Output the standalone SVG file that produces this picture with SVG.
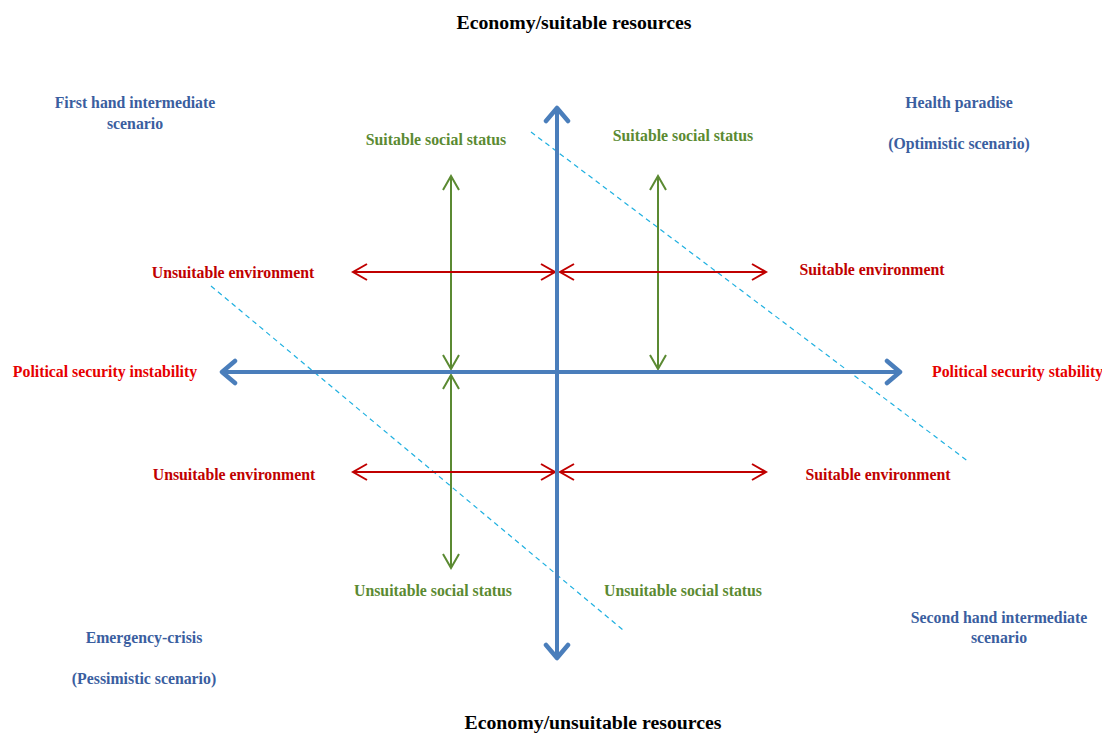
<svg xmlns="http://www.w3.org/2000/svg" width="1102" height="735" viewBox="0 0 1102 735">
<style>
text{font-family:"Liberation Serif","Times New Roman",serif;font-weight:bold;font-size:15.8px;text-anchor:middle}
.blk{fill:#000;font-size:19.8px}
.blu{fill:#3a5ea0}
.grn{fill:#5b8a32}
.red{fill:#e60000}
.dred{fill:#c00000}
.axis{stroke:#4a7ebb;stroke-width:4;fill:none}
.ra{stroke:#c00000;stroke-width:2;fill:none}
.ga{stroke:#5b8a32;stroke-width:2;fill:none}
.dash{stroke:#1fb0e0;stroke-width:1.2;stroke-dasharray:5,4;fill:none}
</style>
<defs>
<marker id="mb" markerUnits="userSpaceOnUse" viewBox="-16 -14 20 28" refX="0" refY="0" markerWidth="20" markerHeight="28" orient="auto-start-reverse">
<path d="M-13,-11 L0,0 L-13,11" stroke="#4a7ebb" stroke-width="4.5" fill="none" stroke-linecap="round" stroke-linejoin="round"/>
</marker>
<marker id="mr" markerUnits="userSpaceOnUse" viewBox="-16 -10 18 20" refX="0" refY="0" markerWidth="18" markerHeight="20" orient="auto-start-reverse">
<path d="M-14,-8 L0,0 L-14,8" stroke="#c00000" stroke-width="2" fill="none"/>
</marker>
<marker id="mg" markerUnits="userSpaceOnUse" viewBox="-16 -10 18 20" refX="0" refY="0" markerWidth="18" markerHeight="20" orient="auto-start-reverse">
<path d="M-14,-8 L0,0 L-14,8" stroke="#5b8a32" stroke-width="2" fill="none"/>
</marker>
</defs>
<g id="connectors">
<line class="dash" x1="531" y1="132" x2="969" y2="462"/>
<line class="dash" x1="211" y1="286" x2="623" y2="630"/>
<line class="ga" x1="451" y1="176" x2="451" y2="369" marker-start="url(#mg)" marker-end="url(#mg)"/>
<line class="ga" x1="451" y1="375" x2="451" y2="568" marker-start="url(#mg)" marker-end="url(#mg)"/>
<line class="ga" x1="658" y1="176" x2="658" y2="369" marker-start="url(#mg)" marker-end="url(#mg)"/>
<line class="ra" x1="353" y1="272" x2="555" y2="272" marker-start="url(#mr)" marker-end="url(#mr)"/>
<line class="ra" x1="560" y1="272" x2="766" y2="272" marker-start="url(#mr)" marker-end="url(#mr)"/>
<line class="ra" x1="353" y1="472" x2="555" y2="472" marker-start="url(#mr)" marker-end="url(#mr)"/>
<line class="ra" x1="560" y1="472" x2="766" y2="472" marker-start="url(#mr)" marker-end="url(#mr)"/>
<line class="axis" x1="557" y1="108" x2="557" y2="658" marker-start="url(#mb)" marker-end="url(#mb)"/>
<line class="axis" x1="222" y1="372" x2="900" y2="372" marker-start="url(#mb)" marker-end="url(#mb)"/>
</g>
<g id="title-top"><text class="blk" x="574" y="29">Economy/suitable resources</text></g>
<g id="title-bottom"><text class="blk" x="593" y="729">Economy/unsuitable resources</text></g>
<g id="q-first"><text class="blu" x="135" y="108">First hand intermediate</text><text class="blu" x="135" y="129">scenario</text></g>
<g id="q-health"><text class="blu" x="959" y="108">Health paradise</text><text class="blu" x="959" y="149">(Optimistic scenario)</text></g>
<g id="q-second"><text class="blu" x="999" y="623">Second hand intermediate</text><text class="blu" x="999" y="643">scenario</text></g>
<g id="q-emergency"><text class="blu" x="144" y="643">Emergency-crisis</text><text class="blu" x="144" y="684">(Pessimistic scenario)</text></g>
<g id="social-tl"><text class="grn" x="436" y="145">Suitable social status</text></g>
<g id="social-tr"><text class="grn" x="683" y="141">Suitable social status</text></g>
<g id="social-bl"><text class="grn" x="433" y="596">Unsuitable social status</text></g>
<g id="social-br"><text class="grn" x="683" y="596">Unsuitable social status</text></g>
<g id="env-tl"><text class="dred" x="233" y="278">Unsuitable environment</text></g>
<g id="env-tr"><text class="dred" x="872" y="275">Suitable environment</text></g>
<g id="env-bl"><text class="dred" x="234" y="480">Unsuitable environment</text></g>
<g id="env-br"><text class="dred" x="878" y="480">Suitable environment</text></g>
<g id="pol-left"><text class="red" x="105" y="377">Political security instability</text></g>
<g id="pol-right"><text class="red" x="932" y="377" style="text-anchor:start">Political security stability</text></g>
</svg>
